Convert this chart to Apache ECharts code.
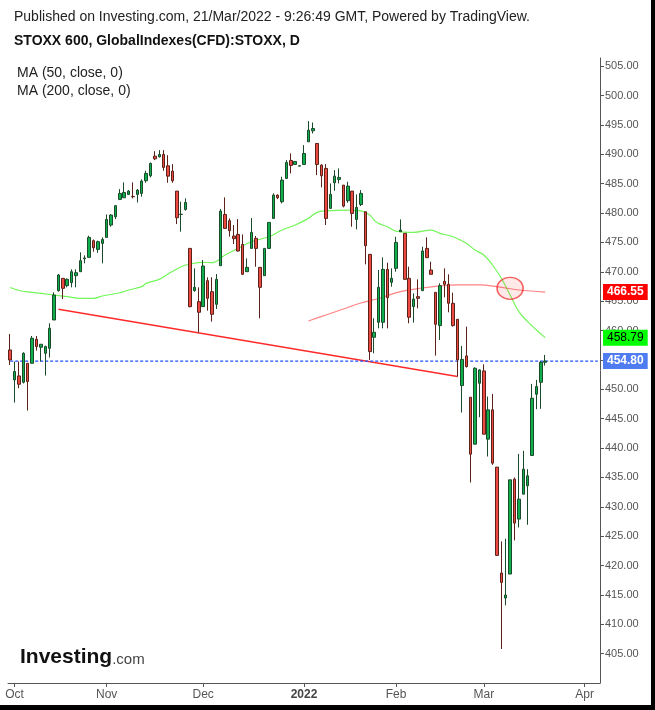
<!DOCTYPE html>
<html>
<head>
<meta charset="utf-8">
<script src="https://cdn.jsdelivr.net/npm/echarts@6/dist/echarts.min.js"></script>
<style>
html,body{margin:0;padding:0;background:#fff;}
#chart{width:655px;height:710px;}
</style>
</head>
<body>
<div id="chart"></div>
<script>
// ---- data ----
const firstDay = '2021-09-30';
const lastAxisDay = '2022-04-06';
const opens = [456.70,451.60,452.28,451.20,454.43,454.43,458.52,457.16,456.13,456.98,461.80,466.79,468.89,467.64,468.15,469.34,470.02,472.23,472.46,475.30,473.82,474.84,475.86,477.96,479.38,482.33,482.61,483.18,482.83,483.18,483.35,485.50,486.35,489.69,489.58,489.98,488.05,487.14,483.74,479.77,480.62,473.99,466.79,464.92,464.07,468.49,466.62,464.47,471.04,479.77,478.70,476.09,476.37,474.67,470.02,473.99,475.69,470.76,469.34,473.99,479.09,483.06,481.93,485.90,488.96,488.28,488.00,488.28,492.13,494.00,491.85,488.16,487.60,480.80,485.16,485.73,484.76,482.10,483.74,478.92,481.47,480.23,472.97,458.85,461.41,461.41,470.42,468.21,470.59,476.83,476.54,468.89,464.07,465.77,466.79,473.99,470.31,466.51,460.84,468.38,467.87,464.64,461.92,450.64,455.68,448.65,440.66,451.03,453.13,441.51,446.50,436.75,418.72,414.47,418.55,434.70,427.90,432.15,433.57,438.73,449.16,451.20,454.60];
const closes = [455.00,453.02,450.86,456.13,451.32,458.69,457.27,457.67,457.27,460.39,466.05,469.46,467.19,468.72,470.02,469.85,471.89,472.35,475.86,474.10,475.13,475.52,478.92,479.66,481.25,483.35,483.51,483.74,482.78,483.91,485.44,486.75,488.45,489.24,489.98,487.77,486.29,485.50,479.21,479.80,481.81,464.07,467.36,463.11,470.99,465.49,462.77,468.72,480.34,477.39,477.00,475.64,473.54,469.57,470.76,476.71,473.99,467.36,473.99,478.41,483.06,482.61,485.61,488.62,488.11,488.79,488.05,490.15,494.12,494.40,488.28,486.35,479.09,483.18,486.29,486.07,481.19,484.59,479.94,480.97,483.35,474.45,456.42,459.71,467.36,470.42,465.60,468.89,475.01,477.11,468.72,462.26,465.37,465.49,473.54,472.40,469.57,461.07,467.64,467.87,464.64,460.84,455.00,455.09,453.87,438.96,453.58,453.30,442.36,446.50,437.43,421.72,417.13,414.98,434.59,427.22,431.30,436.41,435.27,448.48,450.47,454.60,454.80];
const lows = [454.15,447.74,450.18,451.00,446.38,454.43,456.59,454.72,452.34,455.40,461.80,466.62,465.37,467.36,467.36,467.36,470.02,471.44,472.46,473.43,473.25,471.44,475.86,477.68,478.98,482.21,482.61,483.06,482.50,481.81,482.78,485.16,486.07,489.01,489.47,487.20,485.16,485.16,478.13,476.83,480.40,463.96,466.62,459.65,464.07,463.39,461.52,463.67,471.04,477.39,475.98,474.73,473.43,469.46,470.02,473.99,470.87,462.09,469.34,473.88,479.09,482.38,481.64,485.90,486.75,488.28,487.95,488.28,492.13,493.55,486.46,484.37,477.96,480.80,483.80,485.05,480.97,481.76,477.68,477.22,481.19,471.27,455.00,456.13,460.38,460.38,460.38,467.47,470.02,476.83,468.72,461.24,461.35,463.79,466.79,472.40,469.57,455.74,458.40,465.66,463.11,460.67,452.16,446.04,453.70,434.14,440.66,445.25,442.36,438.56,437.14,421.72,405.79,413.22,418.55,424.27,426.49,432.15,426.94,438.73,446.61,446.67,454.04];
const highs = [459.42,454.72,454.72,456.30,454.43,459.08,459.08,457.67,457.44,461.24,466.51,469.63,468.89,468.89,470.42,470.42,473.31,472.80,476.15,475.50,475.30,475.86,479.77,479.83,481.36,484.08,485.22,483.91,485.22,484.08,485.73,487.20,488.62,490.54,490.71,490.71,489.86,488.33,483.74,481.93,482.50,473.99,470.59,467.36,472.01,469.06,469.06,469.63,480.68,482.67,479.09,477.96,478.98,476.37,472.29,479.15,476.09,470.76,473.99,478.41,483.35,483.18,486.18,489.01,490.15,488.79,488.10,491.57,495.65,495.42,491.85,488.33,488.33,485.05,487.31,487.60,484.76,485.33,483.74,483.18,483.91,480.23,472.97,462.09,470.31,472.46,471.55,470.59,475.97,478.92,476.54,470.87,466.34,468.72,474.27,475.86,471.72,466.51,468.04,470.59,469.57,466.45,461.92,457.38,460.67,448.65,453.75,453.41,454.26,448.77,449.22,436.75,424.10,424.56,434.59,434.99,439.01,439.52,436.41,450.92,451.60,454.83,455.85];

const ma50Idx = [0,2,5,10,13,16,19,21,25,27,30,31,34,36,39,41,44,46,49,52,55,59,62,65,68,70,72,77,80,82,83,84,86,88,92,96,98,101,104,106,108,110,112,114,116,118,120,122];
const ma50Val = [467.33,466.82,466.51,466.05,465.77,465.49,465.49,465.88,466.44,466.90,467.47,468.04,468.72,469.63,470.87,471.33,471.62,471.55,472.86,474.00,475.12,475.97,477.11,477.96,479.10,480.12,480.39,480.51,480.39,479.66,478.81,478.25,477.67,476.94,476.72,477.11,476.55,475.97,474.85,473.71,472.86,471.16,468.90,466.05,463.21,461.51,460.10,458.79];
const ma200Idx = [68,72,76,80,84,89,94,98,102,107,111,116,122];
const ma200Val = [461.63,462.65,463.67,464.69,465.46,466.62,467.24,467.59,467.76,467.76,467.47,466.90,466.55];
const trendIdx = [11,102];
const trendVal = [463.62,452.16];
const circleIdx = [114];
const circleVal = [467.19];
const lastPrice = 454.80, lastMA50 = 458.79, lastMA200 = 466.55;
const monthNames = {'10':'Oct','11':'Nov','12':'Dec','01':'2022','02':'Feb','03':'Mar','04':'Apr'};
const yMin = 400, yMax = 506.4, yStep = 5;

// ---- build categories: weekdays ----
const dates = [];
(function(){
  let d = new Date(firstDay + 'T00:00:00Z');
  const end = new Date(lastAxisDay + 'T00:00:00Z');
  while (d <= end) {
    const wd = d.getUTCDay();
    if (wd !== 0 && wd !== 6) dates.push(d.toISOString().slice(0,10));
    d = new Date(d.getTime() + 86400000);
  }
})();
function isMonthStart(i){
  if (i === 0) return false;
  return dates[i].slice(5,7) !== dates[i-1].slice(5,7);
}
const candles = opens.map((o,i)=>[o, closes[i], lows[i], highs[i]]);
const pairs = (idx, val) => idx.map((k,j)=>[dates[k], val[j]]);

const FONT = '"Liberation Sans", Arial, sans-serif';
function tag(value, bg, fg){
  return {
    show:true, position:'end', distance:3, formatter:value.toFixed(2), color:fg, backgroundColor:bg,
    padding:[2,4,2,4], fontSize:12, fontWeight:(fg==='#fff')?'bold':'normal', fontFamily:FONT
  };
}
const noLine = {color:'rgba(0,0,0,0)', width:0};
const chart = echarts.init(document.getElementById('chart'), null, {renderer:'canvas'});
chart.setOption({
  animation:false,
  backgroundColor:'#ffffff',
  grid:{left:8, top:58, width:592, height:625},
  xAxis:{
    type:'category', data:dates, boundaryGap:true,
    axisLine:{lineStyle:{color:'#555', width:1}},
    axisTick:{show:true, alignWithLabel:true, length:4, interval:(i)=>isMonthStart(i), lineStyle:{color:'#555'}},
    axisLabel:{interval:(i)=>isMonthStart(i), color:'#555', fontSize:12, fontFamily:FONT, margin:6,
      formatter:(v)=>{const m=monthNames[v.slice(5,7)]; return m==='2022' ? '{b|2022}' : m;},
      rich:{b:{fontWeight:'bold', color:'#444', fontSize:12, fontFamily:FONT}}},
    splitLine:{show:false}
  },
  yAxis:{
    type:'value', position:'right', min:yMin, max:yMax, interval:yStep, scale:true,
    axisLine:{show:true, lineStyle:{color:'#555', width:1}},
    axisTick:{show:true, length:4, lineStyle:{color:'#555'}},
    axisLabel:{color:'#555', fontSize:11, fontFamily:FONT, margin:5, showMinLabel:false, showMaxLabel:false,
      formatter:(v)=>v.toFixed(2)},
    splitLine:{show:false}
  },
  series:[
    {
      type:'line', data:pairs(ma50Idx, ma50Val), smooth:0.4, symbol:'none',
      lineStyle:{color:'rgba(90,245,60,0.85)', width:1.2}, z:1,
      markLine:{silent:true, symbol:['none','none'], lineStyle:noLine,
        data:[{yAxis:lastMA50, label:tag(lastMA50,'#00ff00','#000')}]}
    },
    {
      type:'line', data:pairs(ma200Idx, ma200Val), smooth:0.4, symbol:'none',
      lineStyle:{color:'rgba(255,90,90,0.75)', width:1.2}, z:1,
      markLine:{silent:true, symbol:['none','none'], lineStyle:noLine,
        data:[{yAxis:lastMA200, label:tag(lastMA200,'#ff0000','#fff')}]}
    },
    {
      type:'line', data:pairs(trendIdx, trendVal), symbol:'none',
      lineStyle:{color:'#ff2a2a', width:1.5}, z:1
    },
    {
      type:'line', data:[[dates[0], lastPrice], [dates[dates.length-1], lastPrice]], symbol:'none',
      lineStyle:{color:'#1f50ff', type:[3,2], width:1.3}, itemStyle:{color:'#1f50ff'}, z:2,
      markLine:{silent:true, symbol:['none','none'], lineStyle:noLine, z:6,
        data:[{yAxis:lastPrice, label:tag(lastPrice,'#4f7cf0','#fff')}]}
    },
    {
      type:'candlestick', data:candles, barWidth:3, z:3,
      itemStyle:{color:'#0fae4c', color0:'#ec4a40', borderColor:'#1b4a2a', borderColor0:'#5a2219', borderWidth:1}
    },
    {
      type:'scatter', data:pairs(circleIdx, circleVal), symbol:'circle', symbolSize:[26,22], z:4,
      itemStyle:{color:'rgba(255,60,60,0.15)', borderColor:'rgba(240,40,40,0.9)', borderWidth:1.5}
    }
  ],
  graphic:[
    {type:'text', left:14, top:10, style:{text:'Published on Investing.com, 21/Mar/2022 - 9:26:49 GMT, Powered by TradingView.', fill:'#222', font:'14px '+FONT}},
    {type:'text', left:14, top:34, style:{text:'STOXX 600, GlobalIndexes(CFD):STOXX, D', fill:'#111', font:'bold 14px '+FONT}},
    {type:'text', left:17, top:66, style:{text:'MA (50, close, 0)', fill:'#222', font:'14px '+FONT}},
    {type:'text', left:17, top:84, style:{text:'MA (200, close, 0)', fill:'#222', font:'14px '+FONT}},
    {type:'text', left:20, top:647, style:{text:'{a|Investing}{b|.com}', rich:{
      a:{fill:'#111', font:'bold 21px '+FONT},
      b:{fill:'#444', font:'15px '+FONT, padding:[4,0,0,0]}}}},
    {type:'rect', shape:{x:651, y:0, width:4, height:710}, style:{fill:'#000'}},
    {type:'rect', shape:{x:0, y:705, width:655, height:5}, style:{fill:'#000'}}
  ]
});
</script>
</body>
</html>
